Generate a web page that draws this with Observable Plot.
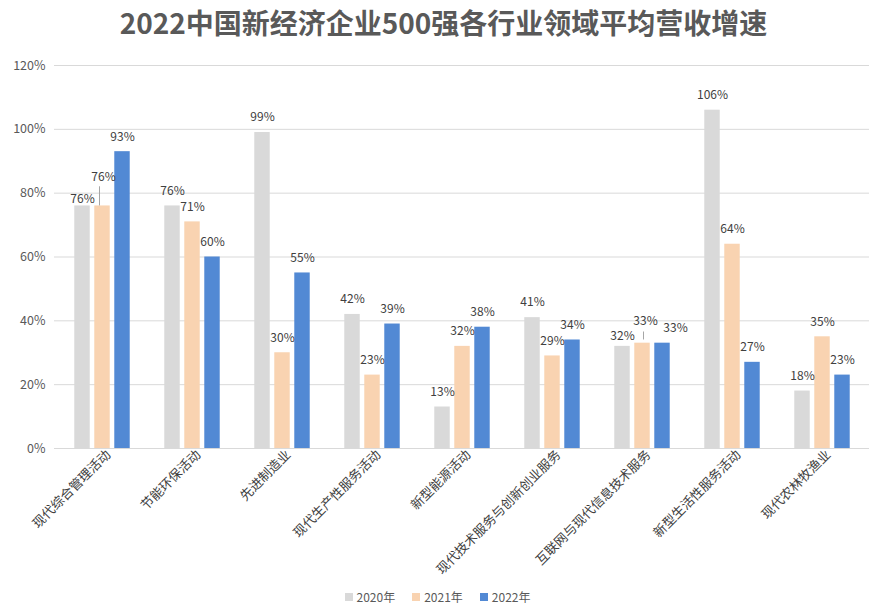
<!DOCTYPE html>
<html><head><meta charset="utf-8">
<script src="https://cdn.jsdelivr.net/npm/d3@7"></script>
<script src="https://cdn.jsdelivr.net/npm/@observablehq/plot@0.6"></script>
<style>
body{margin:0;background:#fff;font-family:"Noto Sans CJK SC","Noto Sans",sans-serif;}
#title{height:42px;line-height:44px;text-align:center;font-size:28px;font-weight:bold;color:#595959;}
#legend{display:flex;justify-content:center;gap:17px;font-size:12px;color:#595959;margin-top:1px;margin-left:-12px}
#legend span{display:inline-flex;align-items:center;gap:4px}
#legend i{display:inline-block;width:8px;height:8px;flex-shrink:0}
</style></head>
<body>
<div id="title">2022中国新经济企业500强各行业领域平均营收增速</div>
<div id="chart"></div>
<div id="legend"></div>
<script>
const categories = ["现代综合管理活动","节能环保活动","先进制造业","现代生产性服务活动","新型能源活动","现代技术服务与创新创业服务","互联网与现代信息技术服务","新型生活性服务活动","现代农林牧渔业"];
const years = ["2020年","2021年","2022年"];
const v2020 = [76,76,99,42,13,41,32,106,18];
const v2021 = [76,71,30,23,32,29,33,64,35];
const v2022 = [93,60,55,39,38,34,33,27,23];
const yTicks = [0,20,40,60,80,100,120];
const colors = ["#d9d9d9","#f9d3b1","#5289d4"];

const series = [v2020, v2021, v2022];
const data = [];
categories.forEach((c,i)=>years.forEach((y,j)=>data.push({cat:c, year:y, yi:j, value:series[j][i]})));

const W = 887, mL = 54, mR = 18;
const bandW = (W - mL - mR) / categories.length;
// 3 bars of 16px with 4px gaps, centred in each category band
const barW = 16, step = 20;
const ins = (bandW - barW) / 2;
const off = j => (j-1)*step;

const at = (ci, yi) => d => d.cat===categories[ci] && d.year===years[yi];
const special = [at(0,0), at(0,1), at(6,0), at(6,1), at(6,2)];
const normal = d => !special.some(f=>f(d));
const lblBase = {x:"cat", y:"value", text:d=>d.value+"%", fontSize:12, fill:"#404040"};
const leader = {x:"cat", stroke:"#a6a6a6"};

const marks = [
  Plot.gridY(yTicks, {stroke:"#d9d9d9", strokeOpacity:1}),
  Plot.axisY(yTicks, {tickSize:0, tickPadding:9, tickFormat: d=>d+"%", fontSize:12.5, fill:"#595959"}),
  Plot.axisX({tickSize:0, tickRotate:-45, fontSize:13, fill:"#404040", dx:6, tickPadding:4})
];
years.forEach((y,j)=>{
  marks.push(Plot.barY(data.filter(d=>d.yi===j), {x:"cat", y:"value", fill:colors[j], dx:off(j), insetLeft:ins, insetRight:ins}));
});
marks.push(Plot.ruleY([0], {stroke:"#d9d9d9"}));
years.forEach((y,j)=>{
  marks.push(Plot.text(data.filter(d=>d.yi===j && normal(d)), {...lblBase, dx:off(j), dy:-15}));
});
marks.push(
  Plot.text(data.filter(at(0,0)), {...lblBase, dx:off(0), dy:-7}),
  Plot.text(data.filter(at(0,1)), {...lblBase, dx:off(1)+1, dy:-29}),
  Plot.ruleX(data.filter(at(0,1)), {...leader, y1:"value", y2:d=>d.value+6, dx:off(1)-3}),
  Plot.text(data.filter(at(6,0)), {...lblBase, dx:off(0), dy:-10}),
  Plot.text(data.filter(at(6,1)), {...lblBase, dx:off(1)+3, dy:-22}),
  Plot.ruleX(data.filter(at(6,1)), {...leader, y1:d=>d.value+1, y2:d=>d.value+3.5, dx:off(1)+1}),
  Plot.text(data.filter(at(6,2)), {...lblBase, dx:off(2)+13, dy:-15})
);

const chart = Plot.plot({
  width: W, height: 545,
  marginTop: 23, marginBottom: 139, marginLeft: mL, marginRight: mR,
  style: {fontFamily: '"Noto Sans CJK SC","Noto Sans",sans-serif', color:"#595959"},
  x: {domain: categories, padding: 0, label: null},
  y: {domain: [0,120], ticks: yTicks, label: null},
  marks
});
document.getElementById("chart").appendChild(chart);

const lg = document.getElementById("legend");
years.forEach((y,i)=>{
  const s=document.createElement("span");
  s.innerHTML=`<i style="background:${colors[i]}"></i>${y}`;
  lg.appendChild(s);
});
</script>
</body></html>
